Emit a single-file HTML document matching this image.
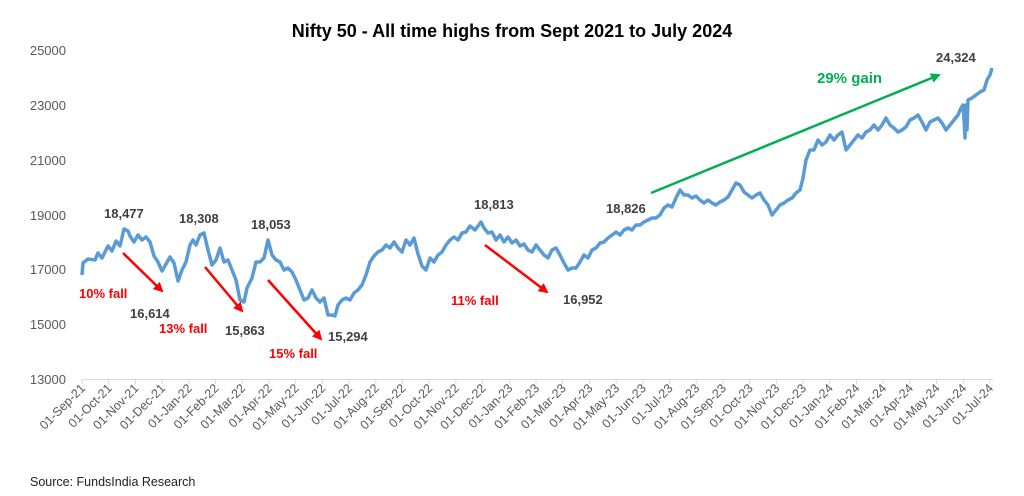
<!DOCTYPE html>
<html><head><meta charset="utf-8"><style>
html,body{margin:0;padding:0;background:#fff;}
svg{display:block;font-family:"Liberation Sans",Calibri,sans-serif;}
</style></head><body>
<svg width="1024" height="496" viewBox="0 0 1024 496" xmlns="http://www.w3.org/2000/svg">
<defs>
<marker id="ar" viewBox="0 0 10 10" refX="8" refY="5" markerWidth="4" markerHeight="4" orient="auto"><path d="M0,0 L10,5 L0,10 z" fill="#ff0000"/></marker>
<marker id="ag" viewBox="0 0 10 10" refX="8" refY="5" markerWidth="4" markerHeight="4" orient="auto"><path d="M0,0 L10,5 L0,10 z" fill="#00b050"/></marker>
</defs>
<text x="512" y="37" text-anchor="middle" font-size="18" font-weight="bold" fill="#000">Nifty 50 - All time highs from Sept 2021 to July 2024</text>
<g font-size="13" fill="#595959" text-anchor="end">
<text x="66" y="55">25000</text>
<text x="66" y="110">23000</text>
<text x="66" y="165">21000</text>
<text x="66" y="220">19000</text>
<text x="66" y="274">17000</text>
<text x="66" y="329">15000</text>
<text x="66" y="384">13000</text>
</g>
<line x1="82" y1="379.5" x2="993" y2="379.5" stroke="#d9d9d9" stroke-width="1"/>
<g stroke="#d9d9d9" stroke-width="1" id="ticks"></g>
<g font-size="12.5" fill="#595959" text-anchor="end" id="xl"></g>
<polyline fill="none" stroke="#5b9bd5" stroke-width="3.5" stroke-linejoin="round" points="82,275 83,263 88,259 95,260 98,253 102,258 108,246 112,251 116,241 120,246 124,229 128,231 130,236 134,242 138,235 142,240 146,237 150,242 154,256 158,262 162,271 166,264 170,257 174,263 178,281 182,270 186,262 190,245 193,240 196,245 200,235 204,233 208,250 212,265 216,260 220,248 224,262 228,260 232,270 236,280 240,300 244,302 247,288 252,278 256,262 260,262 264,258 268,240 272,255 276,260 280,262 284,270 288,268 292,272 296,280 300,290 304,300 308,298 312,290 316,298 320,302 324,298 328,315 332,315 335,316 338,305 342,300 346,298 350,300 354,293 358,290 362,285 366,275 370,262 374,256 378,252 382,250 386,245 390,248 394,242 398,248 402,252 406,240 410,245 414,238 418,254 422,266 426,270 430,258 434,262 438,255 442,252 446,245 450,240 454,237 458,240 462,233 466,232 470,226 475,230 481,222 484,228 488,233 492,232 496,240 500,235 504,242 508,237 512,243 516,240 520,246 524,244 528,250 532,252 536,245 540,250 544,255 548,258 552,250 556,248 560,255 564,263 568,270 572,268 576,268 580,262 584,255 588,258 592,250 596,248 600,243 604,242 608,238 612,235 616,232 620,235 624,230 628,228 632,230 636,225 640,225 644,222 648,220 652,218 656,218 660,215 664,208 668,205 672,207 676,198 680,190 684,195 688,195 692,198 696,196 700,200 704,203 708,200 712,203 716,205 720,202 724,200 728,197 732,190 736,183 740,185 744,192 748,195 752,198 756,195 760,193 764,200 768,205 772,215 776,210 780,205 784,203 788,200 792,198 796,193 800,190 803,178 806,160 810,150 814,150 818,140 822,145 826,142 830,135 834,140 838,135 842,132 846,150 850,145 854,140 858,135 862,138 866,132 870,130 874,125 878,130 882,125 886,118 890,125 894,128 898,132 902,130 906,127 910,120 914,118 918,115 922,122 926,130 930,122 934,120 938,118 942,123 946,130 950,125 954,120 958,115 961,108 963,105 964,118 965,138 966,105 967,130 968,100 972,98 976,95 980,92 984,90 987,80 990,75 992,68"/>
<g stroke="#ff0000" stroke-width="2.5" marker-end="url(#ar)">
<line x1="123" y1="253" x2="162" y2="291"/>
<line x1="205" y1="267" x2="242" y2="311"/>
<line x1="268" y1="280" x2="321" y2="339"/>
<line x1="485" y1="245" x2="547" y2="292"/>
</g>
<line x1="651" y1="193" x2="939" y2="75" stroke="#00b050" stroke-width="2.5" marker-end="url(#ag)"/>
<g font-size="13" font-weight="bold" fill="#404040">
<text x="104" y="218">18,477</text>
<text x="179" y="223">18,308</text>
<text x="251" y="229">18,053</text>
<text x="474" y="209">18,813</text>
<text x="606" y="213">18,826</text>
<text x="936" y="62">24,324</text>
<text x="130" y="318">16,614</text>
<text x="225" y="335">15,863</text>
<text x="328" y="341">15,294</text>
<text x="563" y="304">16,952</text>
</g>
<g font-size="13" font-weight="bold" fill="#ff0000">
<text x="79" y="298">10% fall</text>
<text x="159" y="333">13% fall</text>
<text x="269" y="358">15% fall</text>
<text x="451" y="305">11% fall</text>
</g>
<text x="817" y="83" font-size="15" font-weight="bold" fill="#00b050">29% gain</text>
<text x="30" y="486" font-size="12.5" fill="#222">Source: FundsIndia Research</text>
<script>
var m=["Sep","Oct","Nov","Dec","Jan","Feb","Mar","Apr","May","Jun","Jul","Aug"];
var xl=document.getElementById("xl"),tk=document.getElementById("ticks"),ns="http://www.w3.org/2000/svg";
for(var i=0;i<35;i++){var mi=i%12,yr=21+Math.floor((i+8)/12);var x=82+i*(908/34);
var l=document.createElementNS(ns,"line");l.setAttribute("x1",x);l.setAttribute("x2",x);l.setAttribute("y1",379);l.setAttribute("y2",384);tk.appendChild(l);
var t=document.createElementNS(ns,"text");t.setAttribute("x",x+4);t.setAttribute("y",389);t.setAttribute("transform","rotate(-45 "+(x+4)+" 389)");t.textContent="01-"+m[mi]+"-"+yr;xl.appendChild(t);}
</script>
</svg>
</body></html>
